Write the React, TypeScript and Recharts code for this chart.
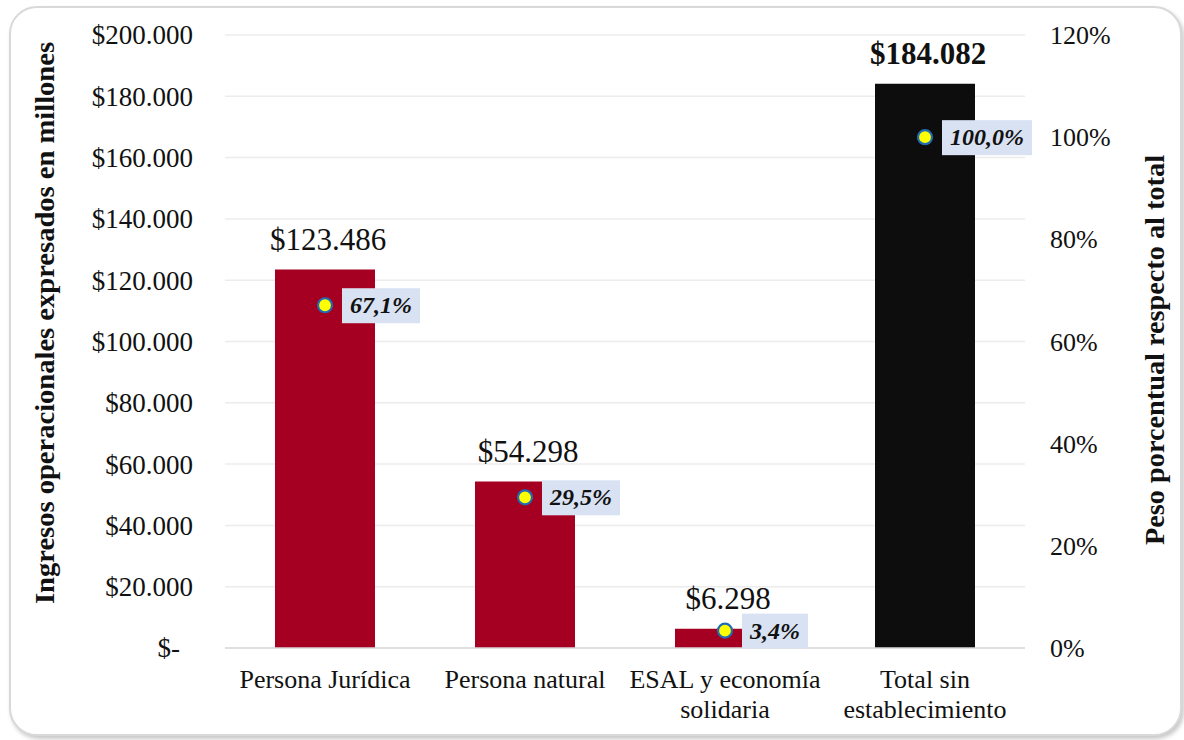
import React from "react";
import {
  ComposedChart,
  Bar,
  Scatter,
  XAxis,
  YAxis,
  CartesianGrid,
  Cell,
  LabelList,
  Label,
} from "recharts";

const categories = [
  "Persona Jurídica",
  "Persona natural",
  "ESAL y economía\nsolidaria",
  "Total sin\nestablecimiento",
];
const ingresos = [123486, 54298, 6298, 184082];
const pesos = [0.671, 0.295, 0.034, 1.0];
const leftTicks = [0, 20000, 40000, 60000, 80000, 100000, 120000, 140000, 160000, 180000, 200000];
const rightTicks = [0, 0.2, 0.4, 0.6, 0.8, 1.0, 1.2];
const barColors = ["#A50021", "#A50021", "#A50021", "#0D0D0D"];

const data = categories.map((name, i) => ({ name, value: ingresos[i], pct: pesos[i] }));

const FONT = '"Liberation Serif", "Times New Roman", serif';
const TEXT = "#111111";

const fmtMoney = (v: number) =>
  v === 0 ? "$-" : "$" + String(Math.round(v)).replace(/\B(?=(\d{3})+(?!\d))/g, ".");
const fmtPct1 = (v: number) => (v * 100).toFixed(1).replace(".", ",") + "%";
const fmtPct0 = (v: number) => Math.round(v * 100) + "%";

const LeftTick = (props: any) => {
  const { x, y, payload } = props;
  const isZero = payload.value === 0;
  return (
    <text
      x={x - (isZero ? 45 : 32)}
      y={y}
      dy="0.35em"
      textAnchor="end"
      fontFamily={FONT}
      fontSize={27}
      fill={TEXT}
    >
      {fmtMoney(payload.value)}
    </text>
  );
};

const RightTick = (props: any) => {
  const { x, y, payload } = props;
  return (
    <text x={x + 25} y={y} dy="0.35em" textAnchor="start" fontFamily={FONT} fontSize={26} fill={TEXT}>
      {fmtPct0(payload.value)}
    </text>
  );
};

const XTick = (props: any) => {
  const { x, y, payload } = props;
  const lines = String(payload.value).split("\n");
  return (
    <text x={x} y={y + 40} textAnchor="middle" fontFamily={FONT} fontSize={26} fill={TEXT}>
      {lines.map((l, i) => (
        <tspan key={i} x={x} dy={i === 0 ? 0 : 30}>
          {l}
        </tspan>
      ))}
    </text>
  );
};

const BarValueLabel = (props: any) => {
  const { x, y, width, value, index } = props;
  const bold = index === ingresos.length - 1;
  return (
    <text
      x={x + width / 2 + (bold ? 3 : 3)}
      y={y - 20}
      textAnchor="middle"
      fontFamily={FONT}
      fontSize={31}
      fontWeight={bold ? "bold" : "normal"}
      fill={TEXT}
    >
      {fmtMoney(value)}
    </text>
  );
};

const PctShape = (props: any) => {
  const { cx, cy, payload } = props;
  const txt = fmtPct1(payload.pct);
  let tw = 0;
  for (const ch of txt) tw += ch === "%" ? 20 : ch === "," ? 6 : 12;
  const w = tw + 16;
  return (
    <g>
      <rect x={cx + 17} y={cy - 17} width={w} height={35} fill="#D9E2F3" />
      <circle cx={cx} cy={cy} r={7} fill="#FFFF00" stroke="#1F6BB5" strokeWidth={2.2} />
      <text
        x={cx + 17 + w / 2}
        y={cy + 8}
        textAnchor="middle"
        fontFamily={FONT}
        fontSize={24}
        fontWeight="bold"
        fontStyle="italic"
        fill={TEXT}
      >
        {txt}
      </text>
    </g>
  );
};

export default function App() {
  return (
    <div style={{ position: "absolute", left: 0, top: 0, width: 1184, height: 740, background: "#fff" }}>
      <div
        style={{
          position: "absolute",
          left: 9,
          top: 6,
          width: 1169,
          height: 726,
          border: "2px solid #d9d9d9",
          borderRadius: 28,
          boxShadow: "2px 3px 4px rgba(0,0,0,0.22)",
          background: "#fff",
        }}
      />
      <div style={{ position: "absolute", left: 0, top: 0 }}>
        <ComposedChart
          width={1184}
          height={740}
          data={data}
          margin={{ top: 35, right: 0, bottom: 0, left: 0 }}
          barCategoryGap="25%"
        >
          <CartesianGrid yAxisId="left" vertical={false} stroke="#ececec" strokeWidth={1.5} />
          <XAxis
            dataKey="name"
            height={92}
            interval={0}
            tickLine={false}
            tickSize={0}
            tickMargin={0}
            axisLine={{ stroke: "#d9d9d9", strokeWidth: 1.5 }}
            tick={<XTick />}
          />
          <YAxis
            yAxisId="left"
            orientation="left"
            width={225}
            domain={[0, 200000]}
            ticks={leftTicks}
            axisLine={false}
            tickLine={false}
            tickSize={0}
            tickMargin={0}
            tick={<LeftTick />}
          >
            <Label
              content={(p: any) => {
                const vb = p.viewBox || {};
                const cx = (vb.x || 0) + 45;
                const cy = 323;
                return (
                  <text
                    x={cx}
                    y={cy}
                    transform={`rotate(-90 ${cx} ${cy})`}
                    textAnchor="middle"
                    dy="0.35em"
                    fontFamily={FONT}
                    fontSize={27}
                    fontWeight="bold"
                    fill={TEXT}
                    textLength={562}
                    lengthAdjust="spacingAndGlyphs"
                  >
                    Ingresos operacionales expresados en millones
                  </text>
                );
              }}
            />
          </YAxis>
          <YAxis
            yAxisId="right"
            orientation="right"
            width={159}
            domain={[0, 1.2]}
            ticks={rightTicks}
            axisLine={false}
            tickLine={false}
            tickSize={0}
            tickMargin={0}
            tick={<RightTick />}
          >
            <Label
              content={(p: any) => {
                const vb = p.viewBox || {};
                const cx = (vb.x || 0) + 130;
                const cy = 350;
                return (
                  <text
                    x={cx}
                    y={cy}
                    transform={`rotate(-90 ${cx} ${cy})`}
                    textAnchor="middle"
                    dy="0.35em"
                    fontFamily={FONT}
                    fontSize={27}
                    fontWeight="bold"
                    fill={TEXT}
                    textLength={390}
                    lengthAdjust="spacingAndGlyphs"
                  >
                    Peso porcentual respecto al total
                  </text>
                );
              }}
            />
          </YAxis>
          <Bar yAxisId="left" dataKey="value" isAnimationActive={false}>
            {data.map((_, i) => (
              <Cell key={i} fill={barColors[i]} />
            ))}
            <LabelList dataKey="value" content={<BarValueLabel />} />
          </Bar>
          <Scatter yAxisId="right" dataKey="pct" isAnimationActive={false} shape={<PctShape />} />
        </ComposedChart>
      </div>
    </div>
  );
}
